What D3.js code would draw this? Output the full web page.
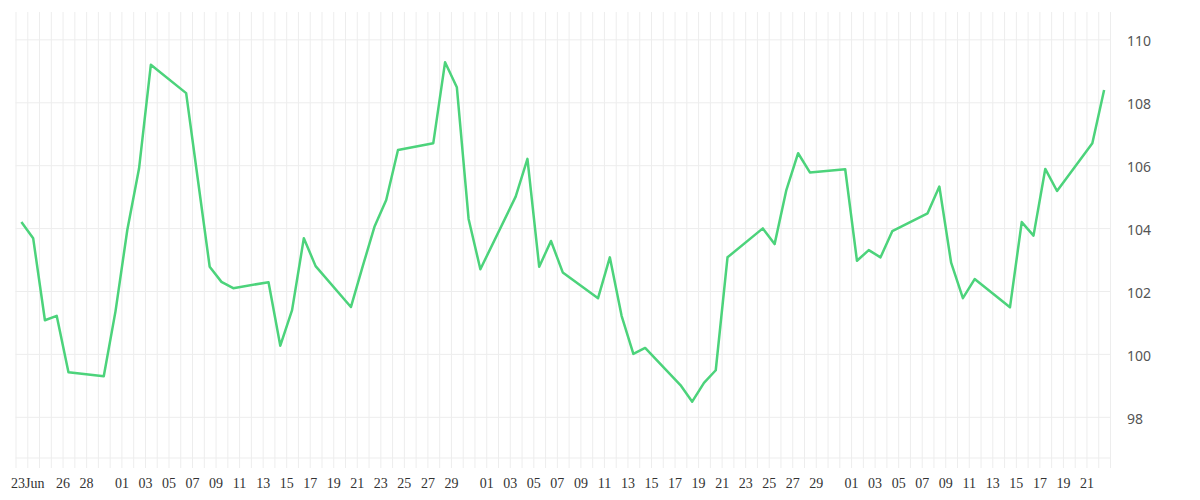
<!DOCTYPE html>
<html>
<head>
<meta charset="utf-8">
<script src="https://cdn.jsdelivr.net/npm/d3@7"></script>
<style>
  body { margin: 0; background: #fff; }
  .grid line { stroke: #ededed; stroke-width: 1; }
  .grid path { display: none; }
  .xlab text { font-family: "Liberation Serif", serif; font-size: 14px; fill: #333; }
  .ylab text { font-family: "Noto Sans", sans-serif; font-size: 14px; fill: #555; }
  .xlab path, .ylab path { display: none; }
</style>
</head>
<body>
<svg id="chart" width="1200" height="500"></svg>
<script>
const dates = [
  '2020-06-22', '2020-06-23', '2020-06-24', '2020-06-25', '2020-06-26',
  '2020-06-29', '2020-06-30', '2020-07-01', '2020-07-02', '2020-07-03',
  '2020-07-06', '2020-07-07', '2020-07-08', '2020-07-09', '2020-07-10',
  '2020-07-13', '2020-07-14', '2020-07-15', '2020-07-16', '2020-07-17',
  '2020-07-20', '2020-07-21', '2020-07-22', '2020-07-23', '2020-07-24',
  '2020-07-27', '2020-07-28', '2020-07-29', '2020-07-30', '2020-07-31',
  '2020-08-03', '2020-08-04', '2020-08-05', '2020-08-06', '2020-08-07',
  '2020-08-10', '2020-08-11', '2020-08-12', '2020-08-13', '2020-08-14',
  '2020-08-17', '2020-08-18', '2020-08-19', '2020-08-20', '2020-08-21',
  '2020-08-24', '2020-08-25', '2020-08-26', '2020-08-27', '2020-08-28',
  '2020-08-31', '2020-09-01', '2020-09-02', '2020-09-03', '2020-09-04',
  '2020-09-07', '2020-09-08', '2020-09-09', '2020-09-10', '2020-09-11',
  '2020-09-14', '2020-09-15', '2020-09-16', '2020-09-17', '2020-09-18',
  '2020-09-21', '2020-09-22'
];

const values = [
  104.19, 103.68, 101.07, 101.21, 99.42,
  99.29, 101.36, 103.94, 105.90, 109.19,
  108.29, 105.53, 102.77, 102.29, 102.09,
  102.28, 100.26, 101.39, 103.68, 102.79,
  101.49, 102.78, 104.04, 104.89, 106.48,
  106.70, 109.27, 108.48, 104.29, 102.69,
  105.00, 106.20, 102.77, 103.59, 102.59,
  101.77, 103.07, 101.21, 100.00, 100.19,
  99.01, 98.48, 99.08, 99.48, 103.07,
  103.99, 103.49, 105.21, 106.38, 105.77,
  105.87, 102.96, 103.30, 103.07, 103.90,
  104.47, 105.32, 102.90, 101.77, 102.38,
  101.48, 104.19, 103.76, 105.88, 105.18,
  106.70, 108.39
];

const tickDates = [
  '2020-06-23', '2020-06-26', '2020-06-28',
  '2020-07-01', '2020-07-03', '2020-07-05', '2020-07-07', '2020-07-09', '2020-07-11',
  '2020-07-13', '2020-07-15', '2020-07-17', '2020-07-19', '2020-07-21', '2020-07-23',
  '2020-07-25', '2020-07-27', '2020-07-29',
  '2020-08-01', '2020-08-03', '2020-08-05', '2020-08-07', '2020-08-09', '2020-08-11',
  '2020-08-13', '2020-08-15', '2020-08-17', '2020-08-19', '2020-08-21', '2020-08-23',
  '2020-08-25', '2020-08-27', '2020-08-29',
  '2020-09-01', '2020-09-03', '2020-09-05', '2020-09-07', '2020-09-09', '2020-09-11',
  '2020-09-13', '2020-09-15', '2020-09-17', '2020-09-19', '2020-09-21'
];

const yTicks = [98, 100, 102, 104, 106, 108, 110];

const parse = d3.utcParse('%Y-%m-%d');
const plotL = 15.5, plotR = 1110, plotT = 12, plotB = 458;

const svg = d3.select('#chart');

const x = d3.scaleUtc()
  .domain([parse('2020-06-22'), parse('2020-09-23')])
  .range([plotL, plotR]);

const y = d3.scaleLinear()
  .domain([96.69, 110.87])
  .range([plotB, plotT]);

// vertical day grid, running a little below the plot as tick marks
svg.append('g')
  .attr('class', 'grid')
  .attr('transform', `translate(0,${plotB + 10})`)
  .call(d3.axisBottom(x)
    .ticks(d3.utcDay.every(1))
    .tickSize(-(plotB + 10 - plotT))
    .tickFormat(''));

// horizontal grid
svg.append('g')
  .attr('class', 'grid')
  .attr('transform', `translate(${plotL},0)`)
  .call(d3.axisRight(y)
    .tickValues(yTicks)
    .tickSize(plotR - plotL)
    .tickFormat(''));

svg.append('line')
  .attr('x1', plotL).attr('x2', plotR)
  .attr('y1', plotB).attr('y2', plotB)
  .attr('stroke', '#ededed');

// x labels
const fmtDay = d3.utcFormat('%d');
svg.append('g')
  .attr('class', 'xlab')
  .attr('transform', `translate(0,${plotB + 17})`)
  .call(d3.axisBottom(x)
    .tickValues(tickDates.map(parse))
    .tickSize(0)
    .tickPadding(3)
    .tickFormat((d, i) => i === 0 ? fmtDay(d) + 'Jun' : fmtDay(d)));

// y labels on the right
svg.append('g')
  .attr('class', 'ylab')
  .attr('transform', `translate(${plotR},0)`)
  .call(d3.axisRight(y)
    .tickValues(yTicks)
    .tickSize(0)
    .tickPadding(17))
  .selectAll('text')
  .attr('dy', '0.47em');

const data = dates.map((d, i) => ({ date: d3.utcHour.offset(parse(d), 12), value: values[i] }));

const line = d3.line()
  .x(d => x(d.date))
  .y(d => y(d.value));

svg.append('path')
  .datum(data)
  .attr('d', line)
  .attr('fill', 'none')
  .attr('stroke', '#4cd37b')
  .attr('stroke-width', 2.5)
  .attr('stroke-linejoin', 'round');
</script>
</body>
</html>
